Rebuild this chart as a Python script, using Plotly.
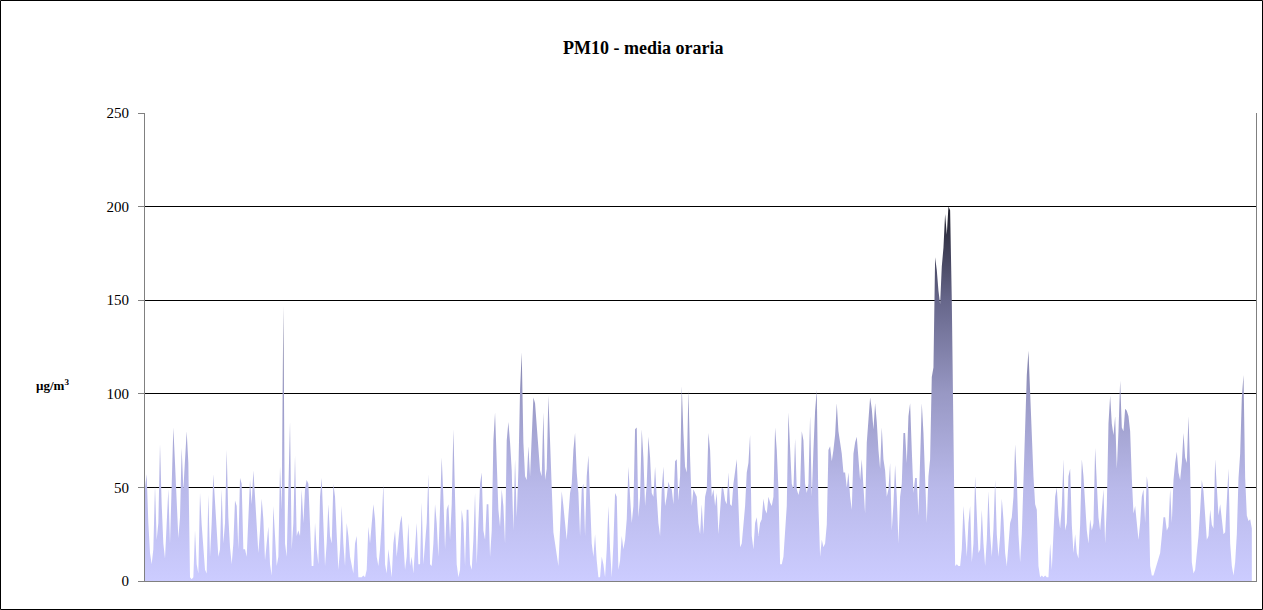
import plotly.graph_objects as go

# PM10 hourly means (µg/m3), in chronological order
seg_01 = [50, 57, 31, 15, 9, 17, 51, 22, 31, 73, 41, 20, 12, 31, 49, 20, 50, 82, 63, 41,
          23, 34, 71, 49, 66, 80, 63, 2, 1, 2, 27, 9, 4, 47, 30, 20, 6, 4, 46, 13,
          31, 57, 40, 24, 13, 17, 49, 20, 31, 70, 34, 18, 9, 20, 43, 40, 17, 55, 52, 17]
seg_02 = [17, 13, 34, 54, 41, 59, 45, 31, 15, 27, 44, 33, 11, 20, 29, 9, 3, 40, 20, 8,
          13, 61, 38, 147, 20, 13, 49, 85, 17, 31, 67, 24, 27, 24, 49, 31, 49, 54, 52, 24,
          8, 8, 31, 17, 9, 45, 55, 31, 8, 20, 41, 24, 20, 52, 45, 25, 6, 17, 40, 20]
seg_03 = [8, 31, 24, 13, 8, 4, 20, 24, 2, 2, 2, 3, 2, 6, 29, 20, 31, 41, 33, 13,
          8, 17, 31, 52, 9, 4, 17, 8, 2, 20, 27, 13, 24, 31, 35, 20, 6, 13, 31, 8,
          13, 4, 20, 31, 9, 9, 42, 9, 20, 31, 57, 9, 8, 20, 41, 31, 13, 40, 66, 45]
seg_04 = [17, 38, 41, 22, 41, 81, 41, 9, 2, 6, 38, 31, 8, 38, 38, 9, 6, 22, 47, 9,
          31, 52, 58, 27, 22, 41, 41, 13, 27, 75, 90, 66, 38, 29, 49, 40, 20, 75, 85, 74,
          59, 27, 65, 34, 59, 102, 122, 74, 56, 54, 72, 56, 75, 98, 95, 81, 68, 59, 56, 90]
seg_05 = [54, 60, 99, 75, 42, 26, 20, 15, 8, 28, 48, 40, 29, 22, 35, 47, 52, 70, 79, 58,
          47, 24, 49, 52, 24, 56, 67, 45, 20, 13, 25, 11, 2, 2, 13, 9, 2, 17, 40, 17,
          2, 20, 47, 45, 6, 11, 24, 17, 22, 33, 61, 45, 31, 40, 81, 82, 34, 45, 81, 66]
seg_06 = [40, 52, 77, 66, 47, 45, 61, 45, 31, 24, 49, 61, 40, 45, 53, 50, 49, 41, 64, 65,
          43, 56, 104, 79, 61, 58, 102, 66, 40, 49, 47, 45, 31, 25, 41, 25, 45, 49, 79, 70,
          45, 49, 40, 47, 25, 41, 50, 49, 43, 41, 58, 41, 40, 52, 59, 65, 41, 18, 20, 31]
seg_07 = [40, 58, 63, 78, 24, 17, 31, 34, 24, 31, 33, 44, 38, 36, 45, 42, 40, 45, 82, 70,
          49, 9, 9, 13, 27, 40, 90, 70, 52, 49, 76, 49, 46, 50, 80, 75, 52, 47, 52, 88,
          45, 70, 91, 102, 40, 13, 22, 18, 20, 30, 70, 72, 64, 70, 78, 95, 80, 74, 68, 58]
seg_08 = [58, 50, 58, 45, 38, 68, 74, 77, 66, 54, 65, 49, 36, 74, 84, 98, 92, 81, 95, 85,
          70, 60, 82, 65, 59, 45, 49, 63, 27, 41, 62, 45, 20, 45, 52, 79, 79, 63, 88, 95,
          70, 47, 55, 55, 35, 61, 95, 79, 56, 31, 56, 65,
          109, 114, 173, 166, 155, 148, 168, 178, 196, 185, 200, 198, 150, 80]
seg_09 = [8, 9, 8, 8, 17, 40, 27, 13, 31, 40, 10, 20, 56, 35, 15, 17, 38, 20, 8, 22,
          48, 25, 13, 28, 54, 25, 13, 24, 44, 33, 15, 8, 22, 31, 34, 45, 73, 55, 25, 10,
          25, 55, 80, 110, 123, 98, 75, 56, 41, 38, 8, 2, 3, 2]
seg_10 = [3, 2, 2, 20, 6, 30, 45, 50, 35, 28, 40, 65, 27, 31, 56, 60, 30, 15, 25, 15,
          12, 30, 65, 56, 41, 27, 20, 33, 27, 31, 71, 54, 34, 27, 40, 49, 20, 40, 84, 99,
          84, 78, 88, 60, 80, 107, 82, 80, 92, 91, 88, 80, 55, 36, 40, 30, 22, 31, 45, 49]
seg_11 = [31, 56, 49, 8, 3, 3, 6, 8, 11, 15, 24, 34, 34, 27, 29, 49, 31, 54, 63, 69,
          58, 54, 63, 79, 66, 63, 88, 60, 10, 4, 6, 14, 24, 38, 54, 48, 35, 22, 24, 38,
          30, 28, 65, 50, 35, 41, 33, 25, 26, 45, 60, 20, 8, 3, 10, 25, 55, 68, 98, 110,
          55, 35, 32, 33, 28]

pm10 = seg_01 + seg_02 + seg_03 + seg_04 + seg_05 + seg_06 + seg_07 + seg_08 + seg_09 + seg_10 + seg_11
hours = list(range(len(pm10)))

y_ticks = [0, 50, 100, 150, 200, 250]

W, H = 1263, 610
ML, MR, MT, MB = 145, 7, 113, 29
PW, PH = W - ML - MR, H - MT - MB
SERIF = "Liberation Serif, Times New Roman, serif"

fig = go.Figure()
fig.add_trace(go.Scatter(
    x=hours, y=pm10, mode="lines",
    line=dict(width=0, color="rgba(0,0,0,0)"),
    fill="tozeroy",
    fillgradient=dict(
        type="vertical", start=0, stop=200,
        colorscale=[[0, "#CCCCFF"], [0.25, "#B9B9EA"], [0.5, "#9898C4"],
                    [0.75, "#66668A"], [1, "#1E1E2A"]],
    ),
    hoverinfo="x+y",
    showlegend=False,
))

fig.update_layout(
    width=W, height=H,
    margin=dict(l=ML, r=MR, t=MT, b=MB, pad=0),
    paper_bgcolor="white", plot_bgcolor="white",
    xaxis=dict(range=[0, 666.5], showticklabels=False, ticks="", showgrid=False,
               zeroline=False, showline=True, linecolor="#808080", linewidth=1),
    yaxis=dict(range=[0, 250], tickvals=y_ticks, showgrid=True, gridcolor="#000000",
               gridwidth=1, zeroline=False, showline=True, linecolor="#808080",
               linewidth=1, mirror=True, ticks="outside", ticklen=6, tickcolor="#808080",
               ticklabelstandoff=6,
               tickfont=dict(family=SERIF, size=15, color="black")),
    shapes=[dict(type="rect", xref="paper", yref="paper",
                 x0=(0.5 - ML) / PW, x1=(W - 0.5 - ML) / PW,
                 y0=(H - MB - (H - 0.5)) / PH, y1=(H - MB - 0.5) / PH,
                 line=dict(color="black", width=1), fillcolor="rgba(0,0,0,0)")],
    annotations=[
        dict(text="<b>PM10 - media oraria</b>", xref="paper", yref="paper",
             x=(643 - ML) / PW, y=(H - MB - 48) / PH, showarrow=False,
             xanchor="center", yanchor="middle",
             font=dict(family=SERIF, size=18, color="black")),
        dict(text="<b>µg/m<sup>3</sup></b>", xref="paper", yref="paper",
             x=(52 - ML) / PW, y=(H - MB - 385) / PH, showarrow=False,
             xanchor="center", yanchor="middle",
             font=dict(family=SERIF, size=13, color="black")),
    ],
)

fig.write_html("out.html", config={"displayModeBar": False},
               post_script="document.body.style.margin='0';")
